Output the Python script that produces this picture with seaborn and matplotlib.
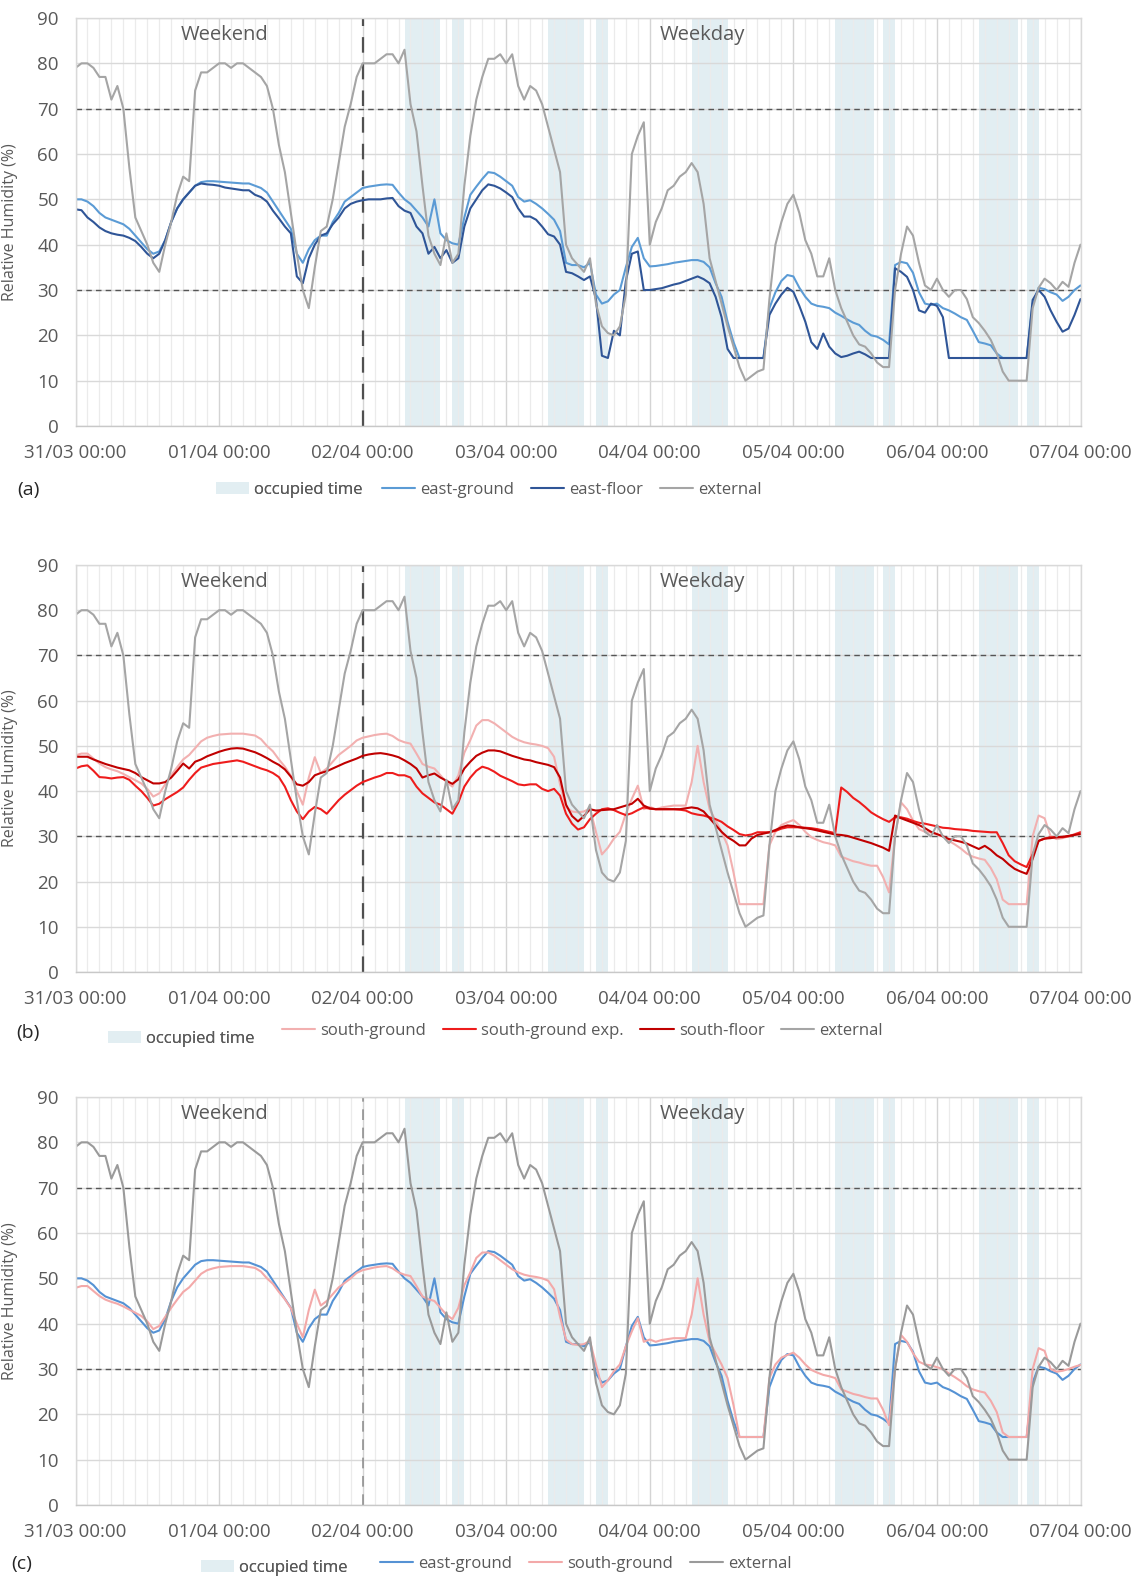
import pandas as pd
import matplotlib
matplotlib.use("Agg")
import matplotlib.pyplot as plt
import matplotlib.dates as mdates
from matplotlib.patches import Patch
from matplotlib.lines import Line2D
import seaborn as sns

sns.set_theme(style="white")
plt.rcParams["font.family"] = ["Open Sans", "DejaVu Sans"]

# Hourly relative humidity readings (%), 31/03 00:00 to 07/04 00:00
external = [
    79, 80, 80, 79, 77, 77, 72, 75, 70, 57, 46, 43, 40, 36, 34, 40, 45, 51, 55, 54, 74, 78, 78, 79,
    80, 80, 79, 80, 80, 79, 78, 77, 75, 70, 62, 56, 47, 38, 30, 26, 35, 43, 44, 50, 58, 66, 71, 77,
    80, 80, 80, 81, 82, 82, 80, 83, 71, 65, 53, 42, 38, 35.5, 42.5, 36, 38, 53, 64, 72, 77, 81, 81, 82,
    80, 82, 75, 72, 75, 74, 71, 66, 61, 56, 40, 37, 35.5, 34, 37, 27, 22, 20.5, 20, 22, 29, 60, 64, 67,
    40, 45, 48, 52, 53, 55, 56, 58, 56, 49, 37, 32, 27, 22, 17.5, 13, 10, 11, 12, 12.5, 28, 40, 45, 49,
    51, 47, 41, 38, 33, 33, 37, 30, 26, 23, 20, 18, 17.5, 16, 14, 13, 13, 30, 38, 44, 42, 36, 31, 30,
    32.5, 30, 28.5, 30, 30, 28, 24, 22.7, 21, 19, 16, 12, 10, 10, 10, 10, 26, 30.5, 32.5, 31.5, 30, 31.8, 30.7, 36,
    40,
]
east_ground = [
    50, 50, 49.5, 48.5, 47, 46, 45.5, 45, 44.5, 43.5, 42, 40.5, 39, 38, 38.5, 41, 45, 48, 50, 51.5, 53, 53.8, 54, 54,
    53.9, 53.8, 53.7, 53.6, 53.5, 53.5, 53, 52.5, 51.5, 49.5, 47.5, 45.5, 43.5, 38, 36, 39, 41, 42, 42, 45, 47, 49.5, 50.5, 51.5,
    52.5, 52.8, 53, 53.2, 53.3, 53.2, 51.5, 50, 49, 47.5, 46, 44, 50, 42.5, 41, 40.3, 40, 46, 51, 52.8, 54.5, 56, 55.8, 55,
    54, 53, 50.5, 49.5, 49.8, 49, 48, 46.8, 45.5, 43, 36, 35.5, 35.5, 35, 36, 29, 27, 27.5, 29, 30, 35, 39.5, 41.5, 37,
    35.2, 35.3, 35.5, 35.7, 36, 36.2, 36.4, 36.6, 36.6, 36.2, 35, 31.5, 28.5, 23, 18.5, 15, 15, 15, 15, 15, 26, 29.5, 32, 33.3,
    33, 30.5, 28.5, 27, 26.5, 26.3, 26, 25, 24.3, 23.5, 22.8, 22.3, 21, 20, 19.7, 19, 18, 35.5, 36.2, 35.9, 33.8, 29.5, 27, 26.7,
    27, 26, 25.5, 24.8, 24, 23.4, 21, 18.5, 18.2, 17.8, 16, 15, 15, 15, 15, 15, 27, 30.5, 30.2, 29.5, 29, 27.6, 28.5, 30,
    31,
]
east_floor = [
    47.8, 47.6, 46, 45, 43.8, 43, 42.5, 42.2, 42, 41.5, 40.8, 39.5, 38, 37, 38, 41, 45, 48, 50, 51.5, 53, 53.5, 53.3, 53.2,
    53, 52.6, 52.4, 52.2, 52, 52, 51, 50.5, 49.5, 47.5, 45.8, 44, 42.5, 33, 31.5, 37, 40, 42, 42.5, 44.5, 46, 48, 49, 49.5,
    49.8, 50, 50, 50, 50.2, 50.3, 48.5, 47.5, 47, 44, 42.5, 38, 39.5, 37, 38.8, 36, 37, 44, 48, 50, 52, 53.3, 53, 52.4,
    51.5, 50.5, 48, 46.2, 46.2, 45.5, 44, 42.3, 41.8, 40, 34, 33.7, 33, 32.2, 33, 28, 15.5, 15, 21, 20, 32, 38, 38.5, 30,
    30, 30.2, 30.4, 30.8, 31.2, 31.5, 32, 32.5, 33, 32.4, 31.5, 28.5, 24, 17, 15, 15, 15, 15, 15, 15, 24.5, 27, 29, 30.5,
    29.6, 26.5, 23, 18.5, 17, 20.4, 17.5, 16, 15.2, 15.5, 16, 16.4, 15.8, 15, 15, 15, 15, 34.8, 34, 32.9, 30, 25.5, 25, 27,
    26.5, 24, 15, 15, 15, 15, 15, 15, 15, 15, 15, 15, 15, 15, 15, 15, 27.8, 30, 28.5, 25.5, 23, 20.8, 21.5, 24.5,
    28,
]
south_ground = [
    47.9, 48.3, 48.3, 47.2, 46.1, 45.3, 44.8, 44.4, 43.8, 43.1, 42.4, 41.7, 40.5, 38.8, 39.5, 41.5, 43.5, 45.3, 47, 48, 49.5, 51, 51.8, 52.2,
    52.5, 52.6, 52.7, 52.7, 52.7, 52.5, 52.3, 51.5, 50, 48.8, 47, 45.4, 43.4, 40, 37, 43, 47.5, 44, 45, 46.5, 48, 49, 50, 51.2,
    51.8, 52.1, 52.4, 52.6, 52.7, 52.2, 51.3, 50.8, 50.5, 48.3, 46, 45.4, 45, 43.5, 42, 41, 43.5, 48.5, 51.3, 54.5, 55.7, 55.7, 55, 54,
    53, 52, 51.3, 50.8, 50.5, 50.3, 50, 49.5, 47.6, 41.5, 36.5, 35.5, 35.3, 35.5, 36.2, 31, 26, 27.5, 29.5, 31, 35, 38.3, 41.2, 36,
    36.5, 36, 36.4, 36.6, 36.8, 36.8, 36.8, 42, 50, 42, 36, 33.5, 31, 28, 22, 15, 15, 15, 15, 15, 28, 31, 32.5, 33.1,
    33.6, 32.5, 31, 29.8, 29.2, 28.7, 28.4, 28, 25.5, 25, 24.5, 24.2, 23.8, 23.5, 23.5, 21, 17.6, 30, 37.5, 36, 33.5, 31.6, 31, 30.8,
    30.4, 30, 29, 28.2, 27.3, 26.2, 25.5, 25.1, 24.8, 23, 20.5, 16, 15, 15, 15, 15, 30, 34.6, 34, 30, 29.4, 29.6, 30, 30.5,
    30.9,
]
south_ground_exp = [
    45, 45.5, 45.7, 44.5, 43.1, 43, 42.8, 43, 43.1, 42.5, 41.2, 40, 38.5, 36.8, 37.2, 38.2, 39, 39.8, 40.8, 42.5, 44, 45.2, 45.6, 46,
    46.2, 46.4, 46.6, 46.8, 46.5, 46, 45.5, 45, 44.6, 44, 43.1, 41, 38, 35.5, 33.8, 35.5, 36.5, 36, 35, 36.5, 38, 39.2, 40.2, 41.2,
    42, 42.5, 43, 43.4, 44, 44, 43.5, 43.5, 43, 41, 39.5, 38.5, 37.5, 37, 36, 35, 37.5, 41, 43, 44.5, 45.4, 45, 44.3, 43.4,
    42.8, 42.2, 41.5, 41.3, 41.5, 41.5, 40.5, 40, 40.5, 39, 35, 32.8, 31.5, 32, 33.8, 35, 36, 36.2, 35.8, 35.2, 34.7, 35.1, 35.8, 36.4,
    36.1, 36, 36, 36, 36, 35.9, 35.7, 35.1, 34.8, 34.6, 34.2, 33.8, 33.2, 32.2, 31.4, 30.5, 30.2, 30.4, 30.9, 30.9, 30.9, 31.2, 31.7, 32,
    32, 32, 31.9, 31.8, 31.6, 31.3, 31, 30.7, 40.8, 39.8, 38.5, 37.6, 36.5, 35.3, 34.5, 33.8, 33.2, 34.2, 34.2, 33.9, 33.4, 33, 32.8, 32.5,
    32.2, 31.9, 31.8, 31.6, 31.5, 31.4, 31.2, 31.1, 31, 30.9, 30.9, 28.5, 25.8, 24.5, 23.8, 23.2, 26, 29, 29.5, 29.8, 29.8, 29.8, 30, 30.4,
    30.9,
]
south_floor = [
    47.6, 47.6, 47.6, 47, 46.5, 46, 45.6, 45.2, 44.9, 44.6, 44, 43.1, 42.4, 41.7, 41.7, 42, 43, 44.5, 46.1, 45, 46.5, 47, 47.7, 48.2,
    48.7, 49.1, 49.4, 49.5, 49.4, 49, 48.6, 48, 47.3, 46.5, 45.8, 44.8, 43.2, 41.5, 41.2, 42, 43.5, 44, 44.4, 45, 45.6, 46.2, 46.7, 47.2,
    47.8, 48.1, 48.3, 48.4, 48.2, 47.9, 47.5, 46.8, 46, 45, 43, 43.5, 43.9, 43, 42.3, 41.6, 42.6, 45, 46.5, 47.8, 48.5, 49, 49, 48.8,
    48.3, 47.8, 47.4, 47, 46.8, 46.4, 46.1, 45.8, 45.3, 43, 37, 34.5, 33.3, 34.5, 36, 35.7, 35.8, 35.9, 36, 36.4, 36.8, 37.2, 38.3, 36.8,
    36.2, 36, 36, 36, 36, 36, 36.2, 36.4, 36.2, 35.5, 34, 32.5, 31, 29.8, 29, 28, 28, 29.5, 30.3, 30.6, 30.9, 31.4, 32, 32.4,
    32.3, 32, 31.8, 31.6, 31.3, 31, 30.7, 30.4, 30.3, 30.1, 29.7, 29.3, 28.9, 28.5, 28, 27.5, 26.8, 34.6, 34, 33.5, 33, 32.5, 31.8, 31,
    30.5, 30, 29.4, 29.1, 28.8, 28.4, 27.8, 27.2, 27.9, 27, 25.8, 25, 23.8, 22.8, 22.2, 21.7, 25, 29, 29.5, 29.6, 29.8, 29.9, 30.1, 30.3,
    30.5,
]

# Occupied periods (weekdays)
occupied = [
    ("2018-04-02 07:00", "2018-04-02 13:00"), ("2018-04-02 15:00", "2018-04-02 17:00"),
    ("2018-04-03 07:00", "2018-04-03 13:00"), ("2018-04-03 15:00", "2018-04-03 17:00"),
    ("2018-04-04 07:00", "2018-04-04 13:00"),
    ("2018-04-05 07:00", "2018-04-05 13:30"), ("2018-04-05 15:00", "2018-04-05 17:00"),
    ("2018-04-06 07:00", "2018-04-06 13:30"), ("2018-04-06 15:00", "2018-04-06 17:00"),
]

times = pd.date_range("2018-03-31 00:00", periods=len(external), freq="h")
t0, t1 = times[0], times[-1]
week_split = pd.Timestamp("2018-04-02 00:00")

TXT = "#595959"
SHADE = "#e2eef2"
LW = 1.5
W, H = 1144, 1577

fig = plt.figure(figsize=(W / 100, H / 100), dpi=100)


def box(l, t, r, b):
    return [l / W, 1 - b / H, (r - l) / W, (b - t) / H]


def style_axes(ax, split_color, split_lw):
    for s, e in occupied:
        ax.axvspan(pd.Timestamp(s), pd.Timestamp(e), color=SHADE, lw=0, zorder=0.3)
    ax.set_xlim(t0, t1)
    ax.set_ylim(0, 90)
    ax.set_yticks(range(0, 91, 10))
    ax.xaxis.set_major_locator(mdates.DayLocator())
    ax.xaxis.set_minor_locator(mdates.HourLocator(byhour=range(0, 24, 2)))
    ax.xaxis.set_major_formatter(mdates.DateFormatter("%d/%m %H:%M"))
    ax.set_axisbelow(True)
    ax.grid(axis="y", which="major", color="#d9d9d9", lw=1.0)
    ax.grid(axis="x", which="major", color="#d4d4d4", lw=1.0)
    ax.grid(axis="x", which="minor", color="#ebebeb", lw=0.9)
    ax.tick_params(axis="both", which="both", length=0, labelsize=13.5, colors=TXT)
    ax.tick_params(axis="x", pad=13)
    ax.tick_params(axis="y", pad=12)
    for sp in ax.spines.values():
        sp.set_color("#d9d9d9")
        sp.set_linewidth(1.0)
    ax.spines["bottom"].set_color("#c8c8c8")
    for level in (30, 70):
        ax.axhline(level, color="#555555", lw=1.0, dashes=(4, 3), zorder=1)
    ax.axvline(week_split, color=split_color, lw=split_lw, dashes=(7, 5), zorder=1.5)
    ax.text(pd.Timestamp("2018-04-01 01:00"), 86.2, "Weekend", fontsize=14.5,
            color=TXT, ha="center", va="center")
    ax.text(pd.Timestamp("2018-04-04 08:45"), 86.2, "Weekday", fontsize=14.5,
            color=TXT, ha="center", va="center")


def draw(ax, series):
    for values, color in series:
        sns.lineplot(x=times, y=values, color=color, lw=LW, ax=ax, zorder=2)
    ax.set_xlabel("")
    ax.set_ylabel("Relative Humidity (%)", fontsize=11.5, color=TXT)
    ax.yaxis.set_label_coords(-0.057, 0.5)


def legends(tag, tag_xy, patch_xy, line_xy, handles):
    fig.text(tag_xy[0] / W, 1 - tag_xy[1] / H, tag, fontsize=14, color="#262626",
             ha="center", va="center")
    common = dict(loc="center left", frameon=False, fontsize=12, labelcolor=TXT,
                  borderpad=0, borderaxespad=0, handlelength=2.0, handleheight=0.7,
                  handletextpad=0.3, columnspacing=1.0, bbox_transform=fig.transFigure)
    leg1 = fig.legend(handles=[Patch(facecolor=SHADE, edgecolor="none", label="occupied time")],
                      bbox_to_anchor=(patch_xy[0] / W, 1 - patch_xy[1] / H), ncol=1, **common)
    fig.add_artist(leg1)
    fig.legend(handles=handles, bbox_to_anchor=(line_xy[0] / W, 1 - line_xy[1] / H),
               ncol=len(handles), **common)


C_EG, C_EF, C_EXT = "#5b9bd5", "#2f5597", "#a5a5a5"
C_SG, C_SGX, C_SF = "#f2b0b0", "#ee1c1c", "#c00000"
C_EG_C, C_SG_C, C_EXT_C = "#5592d4", "#f3a9a9", "#9a9a9a"

# (a) east zone
ax_a = fig.add_axes(box(75.5, 18, 1080.5, 426))
style_axes(ax_a, "#505050", 1.6)
draw(ax_a, [(east_ground, C_EG), (east_floor, C_EF), (external, C_EXT)])
legends("(a)", (28, 490), (216, 490), (382, 490), [
    Line2D([], [], color=C_EG, lw=LW, label="east-ground"),
    Line2D([], [], color=C_EF, lw=LW, label="east-floor"),
    Line2D([], [], color=C_EXT, lw=LW, label="external"),
])

# (b) south zone
ax_b = fig.add_axes(box(75.5, 565, 1080.5, 972))
style_axes(ax_b, "#505050", 1.6)
draw(ax_b, [(south_ground, C_SG), (south_ground_exp, C_SGX), (south_floor, C_SF), (external, C_EXT)])
legends("(b)", (28, 1033), (108, 1039), (282, 1031), [
    Line2D([], [], color=C_SG, lw=LW, label="south-ground"),
    Line2D([], [], color=C_SGX, lw=LW, label="south-ground exp."),
    Line2D([], [], color=C_SF, lw=LW, label="south-floor"),
    Line2D([], [], color=C_EXT, lw=LW, label="external"),
])

# (c) east vs south ground floor
ax_c = fig.add_axes(box(75.5, 1097, 1080.5, 1505))
style_axes(ax_c, "#8a8a8a", 1.1)
draw(ax_c, [(east_ground, C_EG_C), (south_ground, C_SG_C), (external, C_EXT_C)])
legends("(c)", (22, 1564), (201, 1568), (380, 1564), [
    Line2D([], [], color=C_EG_C, lw=LW, label="east-ground"),
    Line2D([], [], color=C_SG_C, lw=LW, label="south-ground"),
    Line2D([], [], color=C_EXT_C, lw=LW, label="external"),
])

fig.savefig("out.png", dpi=100)
